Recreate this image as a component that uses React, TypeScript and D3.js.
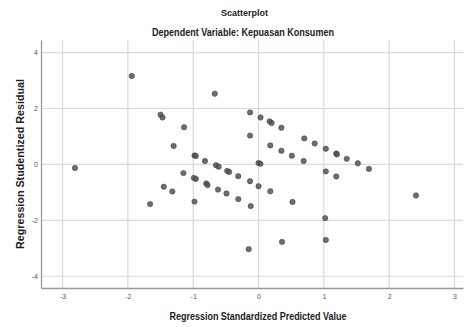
import { useRef, useEffect } from 'react';
import * as d3 from 'd3';

// Regression standardized predicted value (x) and studentized residual (y)
const predicted = [
  -2.81, -1.94, -0.67, -1.5, -1.47, -1.14, -1.3, -0.13, -0.13, -0.98,
  -0.96, -0.82, -0.65, -0.61, -0.48, -0.45, -0.31, -0.13, 0.0, 0.18,
  -1.15, -0.99, -0.96, -0.8, -0.78, -0.62, -0.49, -0.31, -0.12, -1.45,
  -1.32, -1.66, -0.98, -0.15, 0.03, 0.17, 0.2, 0.35, 0.7, 0.86,
  1.03, 1.19, 1.2, 1.35, 1.52, 1.69, 0.18, 0.35, 0.51, 0.69,
  0.0, 0.03, 1.03, 1.19, 0.52, 1.02, 0.36, 1.03, 2.41,
];
const residual = [
  -0.13, 3.16, 2.53, 1.78, 1.68, 1.33, 0.66, 1.86, 1.03, 0.32,
  0.3, 0.12, -0.03, -0.08, -0.23, -0.27, -0.42, -0.6, -0.78, -0.96,
  -0.31, -0.48, -0.52, -0.68, -0.74, -0.9, -1.04, -1.24, -1.49, -0.8,
  -0.97, -1.42, -1.33, -3.03, 1.68, 1.54, 1.48, 1.31, 0.93, 0.75,
  0.56, 0.39, 0.36, 0.2, 0.04, -0.16, 0.68, 0.49, 0.31, 0.12,
  0.05, 0.02, -0.25, -0.43, -1.34, -1.92, -2.77, -2.7, -1.11,
];
const xTicks = [-3, -2, -1, 0, 1, 2, 3];
const yTicks = [-4, -2, 0, 2, 4];

const title = 'Scatterplot';
const subtitle = 'Dependent Variable: Kepuasan Konsumen';
const xLabel = 'Regression Standardized Predicted Value';
const yLabel = 'Regression Studentized Residual';

export default function App() {
  const svgRef = useRef<SVGSVGElement>(null);

  useEffect(() => {
    const svg = svgRef.current;
    if (!svg) return;

    const width = 466;
    const height = 327;
    const margin = { top: 40, right: 3, bottom: 39, left: 41 };
    const innerW = width - margin.left - margin.right;
    const innerH = height - margin.top - margin.bottom;
    const font = 'Liberation Sans, Arial, sans-serif';

    const sel = d3.select(svg);
    sel.selectAll('*').remove();

    const x = d3.scaleLinear().domain([-3.33, 3.13]).range([0, innerW]);
    const y = d3.scaleLinear().domain([-4.42, 4.45]).range([innerH, 0]);

    const g = sel
      .append('g')
      .attr('transform', `translate(${margin.left},${margin.top})`);

    // Grid
    g.selectAll('.grid-v')
      .data(xTicks)
      .join('line')
      .attr('x1', (d) => x(d))
      .attr('x2', (d) => x(d))
      .attr('y1', 0)
      .attr('y2', innerH)
      .attr('stroke', '#d9d9d9')
      .attr('stroke-width', 1.2);
    g.selectAll('.grid-h')
      .data(yTicks)
      .join('line')
      .attr('x1', 0)
      .attr('x2', innerW)
      .attr('y1', (d) => y(d))
      .attr('y2', (d) => y(d))
      .attr('stroke', '#d9d9d9')
      .attr('stroke-width', 1.2);

    // Axes
    const fmt = (d: d3.NumberValue) => `${d}`;
    g.append('g')
      .attr('transform', `translate(0,${innerH})`)
      .call(d3.axisBottom(x).tickValues(xTicks).tickSize(0).tickPadding(6).tickFormat(fmt))
      .call((a) => {
        a.select('.domain').attr('stroke', '#999').attr('stroke-width', 1.3);
        a.selectAll('.tick text')
          .attr('fill', '#555')
          .attr('font-size', '7px')
          .attr('font-family', font);
      });
    g.append('g')
      .call(d3.axisLeft(y).tickValues(yTicks).tickSize(0).tickPadding(3).tickFormat(fmt))
      .call((a) => {
        a.select('.domain').attr('stroke', '#999').attr('stroke-width', 1.3);
        a.selectAll('.tick text')
          .attr('fill', '#555')
          .attr('font-size', '7px')
          .attr('font-family', font);
      });

    // Points
    g.selectAll('.dot')
      .data(predicted.map((p, i) => [p, residual[i]] as [number, number]))
      .join('circle')
      .attr('cx', (d) => x(d[0]))
      .attr('cy', (d) => y(d[1]))
      .attr('r', 2.7)
      .attr('fill', '#555')
      .attr('fill-opacity', 0.85)
      .attr('stroke', '#333')
      .attr('stroke-opacity', 0.8)
      .attr('stroke-width', 0.6);

    // Titles
    const addText = (
      tx: number,
      ty: number,
      size: string,
      len: number,
      label: string,
      rotate = false
    ) =>
      sel.append('text')
        .attr('transform', `translate(${tx},${ty})${rotate ? ' rotate(-90)' : ''}`)
        .attr('text-anchor', 'middle')
        .attr('font-family', font)
        .attr('font-size', size)
        .attr('font-weight', 700)
        .attr('fill', '#222')
        .attr('textLength', len)
        .attr('lengthAdjust', 'spacingAndGlyphs')
        .text(label);

    addText(244.5, 15.5, '9.5px', 47, title);
    addText(243, 36, '10.5px', 182, subtitle);
    addText(258, 319.5, '10.5px', 177, xLabel);
    addText(24, 164, '10.5px', 170, yLabel, true);
  }, []);

  return (
    <div style={{ position: 'fixed', left: 0, top: 0, width: 466, height: 327, background: '#fff' }}>
      <svg ref={svgRef} width={466} height={327} style={{ display: 'block' }} />
    </div>
  );
}
